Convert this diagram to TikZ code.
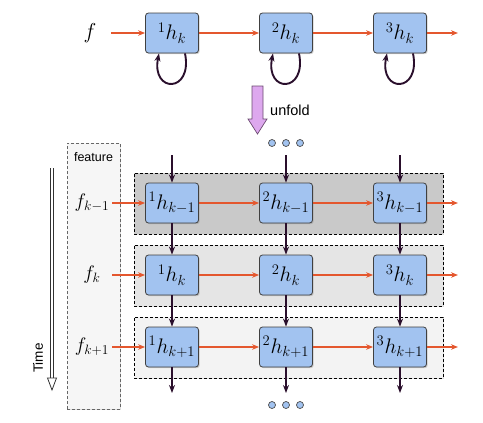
\documentclass[tikz,border=0pt]{standalone}
\usepackage{graphicx}
\usepackage{fontspec}
\setsansfont{Liberation Sans}
\usetikzlibrary{arrows.meta,shadows}
\newcommand\boxmath[1]{\scalebox{1.22}{\LARGE$#1$}}
\newcommand\labmath[1]{\scalebox{1.13}{\LARGE$#1$}}
\definecolor{boxblue}{HTML}{A2C3F0}
\definecolor{bandA}{HTML}{C9C9C9}
\definecolor{bandB}{HTML}{E5E5E5}
\definecolor{bandC}{HTML}{F3F3F3}
\definecolor{featfill}{HTML}{F6F6F6}
\definecolor{flowred}{HTML}{E4572E}
\definecolor{darkpurp}{HTML}{2A0F2C}
\definecolor{unfoldfill}{HTML}{DDA8EE}
\definecolor{unfolddraw}{HTML}{6B4A70}
\tikzset{
  hbox/.style={draw=black!75, line width=0.8pt, fill=boxblue, rounded corners=3pt,
    minimum width=53pt, minimum height=40pt, inner sep=0pt,
    drop shadow={shadow xshift=1.2pt, shadow yshift=-1.2pt, opacity=0.35}},
  lab/.style={minimum width=40pt, inner sep=0pt},
  band/.style={draw=black, line width=0.7pt, dash pattern=on 3pt off 2pt,
    drop shadow={shadow xshift=1pt, shadow yshift=-1pt, opacity=0.25}},
  redarr/.style={draw=flowred, line width=1.1pt, -{Stealth[length=7pt,width=5.5pt]}},
  purparr/.style={draw=darkpurp, line width=1.9pt, -{Stealth[length=8pt,width=6pt]}},
  dot/.style={circle, draw=black!70, line width=0.7pt, fill=boxblue, minimum size=7pt, inner sep=0pt},
  sanslab/.style={font=\sffamily, inner sep=0pt},
}
\begin{document}
\begin{tikzpicture}[x=1pt,y=-1pt]
\useasboundingbox (0,0) rectangle (483,423);
% ---------- top row ----------
\node[lab, minimum width=42pt] (f) at (90,33) {\scalebox{1.25}{\LARGE$f$}};
\node[hbox] (t1) at (172,33) {\boxmath{{}^{1}h_{k}}};
\node[hbox] (t2) at (286,33) {\boxmath{{}^{2}h_{k}}};
\node[hbox] (t3) at (400,33) {\boxmath{{}^{3}h_{k}}};
\coordinate (tout) at (458,33);
\draw[redarr] (f.east) -- (t1.west);
\draw[redarr] (t1.east) -- (t2.west);
\draw[redarr] (t2.east) -- (t3.west);
\draw[redarr] (t3.east) -- (tout);
\foreach \n in {t1,t2,t3}{
  \draw[purparr] ([xshift=13pt]\n.south) .. controls +(8,40) and +(-8,40) .. ([xshift=-13pt]\n.south);
}
% ---------- unfold ----------
\draw[draw=unfolddraw, fill=unfoldfill, line width=0.7pt]
  (252,86) -- (263,86) -- (263,119) -- (267,119) -- (257.5,134) -- (248,119) -- (252,119) -- cycle;
\node[sanslab, anchor=west, font=\sffamily\fontsize{14.5}{16}\selectfont] (unf) at (270,110) {unfold};
\node[dot] (u1) at (272,143) {};
\node[dot] (u2) at (286,143) {};
\node[dot] (u3) at (300,143) {};
% ---------- bands ----------
\node[band, fill=featfill, draw=black!60, minimum width=53pt, minimum height=266pt, inner sep=0pt] (feat) at (93.5,276) {};
\node[sanslab, font=\sffamily\fontsize{12.5}{14}\selectfont] (feattxt) at (93.5,157) {feature};
\node[band, fill=bandA, minimum width=309pt, minimum height=61pt, inner sep=0pt] (r1) at (288.5,203.5) {};
\node[band, fill=bandB, minimum width=309pt, minimum height=61pt, inner sep=0pt] (r2) at (288.5,275.5) {};
\node[band, fill=bandC, minimum width=309pt, minimum height=61pt, inner sep=0pt] (r3) at (288.5,347.5) {};
% ---------- time ----------
\coordinate (timetop) at (52,168);
\coordinate (timebot) at (52,379);
\draw[line width=0.8pt, double=white, double distance=1.6pt, black!80] (timetop) -- (timebot);
\draw[line width=0.8pt, black!80, fill=white] (47.5,378) -- (56.5,378) -- (52,390) -- cycle;
\node[sanslab, rotate=90, font=\sffamily\fontsize{13.5}{15}\selectfont] (time) at (38,358) {Time};
% ---------- grid ----------
\node[lab] (l1) at (92,203) {\labmath{f_{k-1}}};
\node[lab] (l2) at (92,275) {\labmath{f_{k}}};
\node[lab] (l3) at (92,347) {\labmath{f_{k+1}}};
\node[hbox] (a1) at (172,203) {\boxmath{{}^{1}h_{k-1}}};
\node[hbox] (a2) at (286,203) {\boxmath{{}^{2}h_{k-1}}};
\node[hbox] (a3) at (400,203) {\boxmath{{}^{3}h_{k-1}}};
\node[hbox] (b1) at (172,275) {\boxmath{{}^{1}h_{k}}};
\node[hbox] (b2) at (286,275) {\boxmath{{}^{2}h_{k}}};
\node[hbox] (b3) at (400,275) {\boxmath{{}^{3}h_{k}}};
\node[hbox] (c1) at (172,347) {\boxmath{{}^{1}h_{k+1}}};
\node[hbox] (c2) at (286,347) {\boxmath{{}^{2}h_{k+1}}};
\node[hbox] (c3) at (400,347) {\boxmath{{}^{3}h_{k+1}}};
\coordinate (ao) at (458,203);
\coordinate (bo) at (458,275);
\coordinate (co) at (458,347);
\foreach \r/\l/\o in {a/l1/ao,b/l2/bo,c/l3/co}{
  \draw[redarr] (\l.east) -- (\r1.west);
  \draw[redarr] (\r1.east) -- (\r2.west);
  \draw[redarr] (\r2.east) -- (\r3.west);
  \draw[redarr] (\r3.east) -- (\o);
}
\foreach \i/\x in {1/172,2/286,3/400}{
  \coordinate (in\i) at (\x,155);
  \coordinate (out\i) at (\x,393);
  \draw[purparr] (in\i) -- (a\i.north);
  \draw[purparr] (a\i.south) -- (b\i.north);
  \draw[purparr] (b\i.south) -- (c\i.north);
  \draw[purparr] (c\i.south) -- (out\i);
}
\node[dot] (d1) at (272,405) {};
\node[dot] (d2) at (286,405) {};
\node[dot] (d3) at (300,405) {};
\end{tikzpicture}
\end{document}
